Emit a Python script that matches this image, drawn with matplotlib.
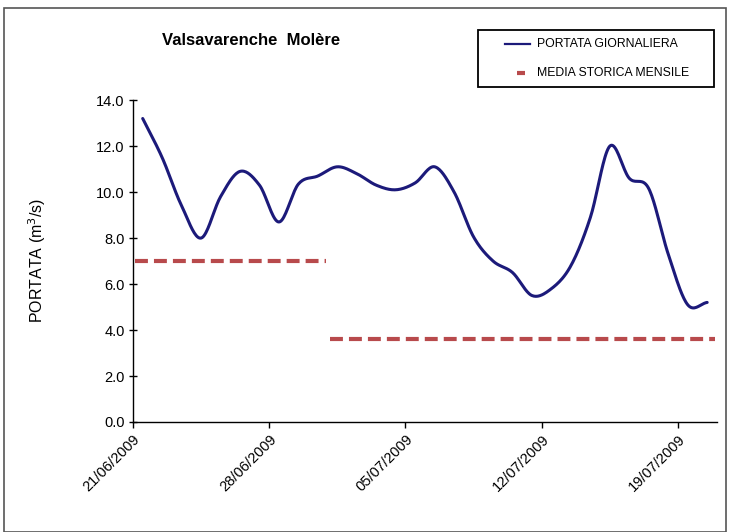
import numpy as np
import matplotlib
matplotlib.use("Agg")
import matplotlib.pyplot as plt
import matplotlib.dates as mdates
from matplotlib.lines import Line2D
from matplotlib.patches import Rectangle
from matplotlib import font_manager as fm

# ---- data ----
start_date = "2009-06-21"
portata_giornaliera = [13.2, 11.5, 9.4, 8.0, 9.8, 10.9, 10.3, 8.7, 10.35, 10.7,
                       11.1, 10.8, 10.3, 10.1, 10.4, 11.1, 10.0, 8.05, 7.0, 6.5,
                       5.5, 5.8, 6.8, 8.9, 12.0, 10.6, 10.15, 7.3, 5.1, 5.2]
mesi = ["2009-06", "2009-07"]
media_storica_mensile = [7.0, 3.6]
tick_labels = ["21/06/2009", "28/06/2009", "05/07/2009", "12/07/2009", "19/07/2009"]
title = "Valsavarenche  Molère"
ylabel = "PORTATA (m$^3$/s)"
legend_labels = ["PORTATA GIORNALIERA", "MEDIA STORICA MENSILE"]

# fonts
avail = {f.name for f in fm.fontManager.ttflist}
narrow = "Liberation Sans Narrow" if "Liberation Sans Narrow" in avail else "Liberation Sans"
plt.rcParams['font.family'] = ['Liberation Sans', 'DejaVu Sans']

days = np.datetime64(start_date) + np.arange(len(portata_giornaliera)).astype('timedelta64[D]')
x_mid = mdates.date2num(days) + 0.5
y = np.array(portata_giornaliera, dtype=float)

def catmull_rom(x, y, n=20):
    px = np.concatenate([[2 * x[0] - x[1]], x, [2 * x[-1] - x[-2]]])
    py = np.concatenate([[2 * y[0] - y[1]], y, [2 * y[-1] - y[-2]]])
    xs, ys = [], []
    t = np.linspace(0, 1, n, endpoint=False)
    for i in range(1, len(px) - 2):
        p0, p1, p2, p3 = py[i - 1], py[i], py[i + 1], py[i + 2]
        q0, q1, q2, q3 = px[i - 1], px[i], px[i + 1], px[i + 2]
        for arr, a0, a1, a2, a3 in ((ys, p0, p1, p2, p3), (xs, q0, q1, q2, q3)):
            arr.extend(0.5 * ((2 * a1) + (-a0 + a2) * t + (2 * a0 - 5 * a1 + 4 * a2 - a3) * t ** 2
                              + (-a0 + 3 * a1 - 3 * a2 + a3) * t ** 3))
    xs.append(x[-1]); ys.append(y[-1])
    return np.array(xs), np.array(ys)

fig = plt.figure(figsize=(7.29, 5.32), dpi=100)
ax = fig.add_axes([0.1824, 0.2068, 0.801, 0.605])

navy = "#1c1a7a"
red = "#b84a4c"

sx, sy = catmull_rom(x_mid, y)
ax.plot(sx, sy, color=navy, lw=2.2, solid_capstyle='round', zorder=3)

day_nums = mdates.date2num(days)
for mese, media in zip(mesi, media_storica_mensile):
    mask = np.array([str(d)[:7] == mese for d in days])
    x0 = day_nums[mask].min() + 0.1
    x1 = day_nums[mask].max() + 0.9
    ax.plot([x0, x1], [media, media], color=red, lw=3.0, linestyle=(0, (3.1, 1.45)),
            solid_capstyle='butt', dash_capstyle='butt', zorder=2)

ax.set_xlim(day_nums[0], day_nums[-1] + 1)
ax.set_ylim(0, 14)
ax.set_yticks(np.arange(0, 14.1, 2))
ax.set_yticklabels([f"{v:.1f}" for v in np.arange(0, 14.1, 2)], fontsize=10.5)
tick_pos = mdates.date2num(np.datetime64(start_date) + np.arange(0, 29, 7).astype('timedelta64[D]'))
ax.set_xticks(tick_pos)
ax.set_xticklabels(tick_labels, rotation=45, ha='right', rotation_mode='anchor', fontsize=10.5)
ax.tick_params(axis='both', direction='out', length=4, width=1, colors='black', pad=3)
ax.tick_params(axis='y', direction='inout', length=6)
ax.tick_params(axis='x', direction='out', length=4)
for s in ['top', 'right']:
    ax.spines[s].set_visible(False)
for s in ['left', 'bottom']:
    ax.spines[s].set_linewidth(1.0)
    ax.spines[s].set_color('black')

fig.text(37 / 729, 1 - 260 / 532, ylabel, fontsize=11.5, rotation=90, ha='center', va='center')
fig.text(0.345, 0.924, title, fontsize=12, fontweight='bold', family=narrow, ha='center', va='center')

# legend drawn in figure coordinates
fig.patches.append(Rectangle((478 / 729, 1 - 87 / 532), 236 / 729, 57 / 532, transform=fig.transFigure,
                             fill=False, edgecolor='black', lw=1.3, zorder=5))
y1, y2 = 1 - 44 / 532, 1 - 73 / 532
fig.add_artist(Line2D([505 / 729, 530 / 729], [y1, y1], transform=fig.transFigure, color=navy, lw=1.6))
fig.add_artist(Line2D([517 / 729, 525 / 729], [y2, y2], transform=fig.transFigure, color=red, lw=3.0,
                      solid_capstyle='butt'))
fig.text(537 / 729, y1, legend_labels[0], fontsize=8.8, family=narrow, ha='left', va='center')
fig.text(537 / 729, y2, legend_labels[1], fontsize=8.8, family=narrow, ha='left', va='center')

fig.patches.append(Rectangle((0.006, 0.0), 0.99, 0.985, transform=fig.transFigure,
                             fill=False, edgecolor='#555555', lw=1.2))
fig.savefig("out.png", dpi=100)
